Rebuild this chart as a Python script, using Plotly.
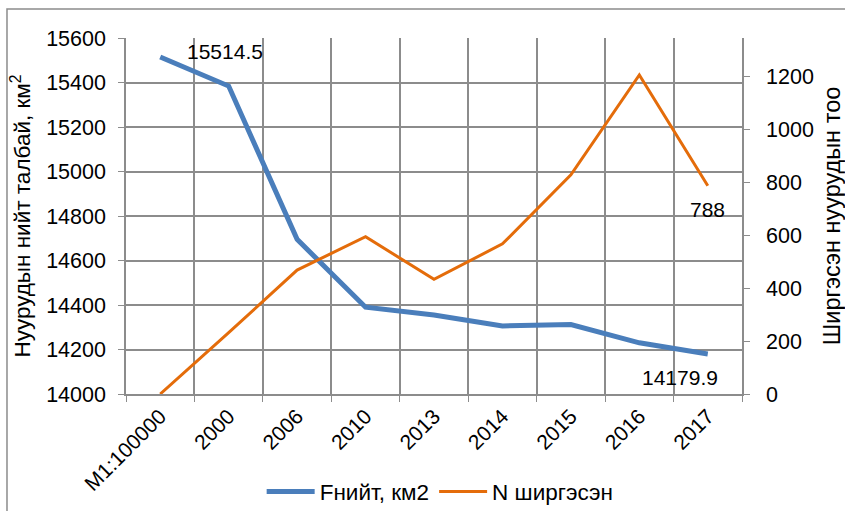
import plotly.graph_objects as go

categories = ["M1:100000", "2000", "2006", "2010", "2013", "2014", "2015", "2016", "2017"]
area_km2 = [15514.5, 15384, 14695, 14390, 14355, 14306, 14312, 14230, 14179.9]
dried_count = [0, 232, 469, 595, 434, 568, 829, 1207, 788]

series_names = ["Fнийт, км2", "N ширгэсэн"]
left_title = "Нуурудын нийт талбай, км<sup>2</sup>"
right_title = "Ширгэсэн нуурудын тоо"

BLUE = "#4A7EBB"
ORANGE = "#E46C0A"
GRID = "#8C8C8C"
FONT = "Liberation Sans, Arial, sans-serif"
FS = 21

last = len(categories) - 1

fig = go.Figure()
fig.add_trace(go.Scatter(x=categories, y=area_km2, mode="lines", name=series_names[0],
                         line=dict(color=BLUE, width=5), yaxis="y"))
fig.add_trace(go.Scatter(x=categories, y=dried_count, mode="lines", name=series_names[1],
                         line=dict(color=ORANGE, width=3), yaxis="y2"))

# data labels
fig.add_annotation(x=0, y=area_km2[0], xref="x", yref="y", text=f"{area_km2[0]}",
                   showarrow=False, xanchor="left", xshift=25, yshift=6,
                   font=dict(size=FS, color="black", family=FONT))
fig.add_annotation(x=last, y=area_km2[last], xref="x", yref="y", text=f"{area_km2[last]}",
                   showarrow=False, xanchor="center", xshift=-28, yshift=-24,
                   font=dict(size=FS, color="black", family=FONT))
fig.add_annotation(x=last, y=dried_count[last], xref="x", yref="y2", text=f"{dried_count[last]}",
                   showarrow=False, xanchor="center", xshift=0, yshift=-24,
                   font=dict(size=FS, color="black", family=FONT))

# outer chart border
fig.add_shape(type="rect", xref="paper", yref="paper", x0=-0.1932, x1=1.2, y0=-0.4, y1=1.0815,
              line=dict(color=GRID, width=1.5), fillcolor="rgba(0,0,0,0)", layer="below")

fig.update_layout(
    width=845, height=511,
    margin=dict(l=126, r=103, t=38, b=117, autoexpand=False),
    paper_bgcolor="white", plot_bgcolor="white",
    font=dict(family=FONT, size=FS, color="black"),
    showlegend=True,
    legend=dict(orientation="h", x=0.51, xanchor="center", y=-0.275, yanchor="middle",
                font=dict(size=22.5, family=FONT, color="black"), itemwidth=48, tracegroupgap=0),
    xaxis=dict(type="category", tickson="boundaries", showgrid=True, gridcolor=GRID, gridwidth=1.5,
               showline=True, linecolor=GRID, linewidth=1.5, ticks="outside", ticklen=6,
               tickcolor=GRID, tickangle=-45, tickfont=dict(size=FS), range=[-0.5, 8.5],
               automargin=False, zeroline=False),
    yaxis=dict(range=[14000, 15600], dtick=200, tickformat="d", showgrid=True, gridcolor=GRID,
               gridwidth=1.5, showline=True, linecolor=GRID, linewidth=1.5, ticks="outside",
               ticklen=6, tickcolor=GRID, tickfont=dict(size=21.5), zeroline=False, automargin=False,
               ticklabelstandoff=8,
               title=dict(text=left_title, font=dict(size=22.5), standoff=9)),
    yaxis2=dict(range=[0, 1347], tickvals=[0, 200, 400, 600, 800, 1000, 1200], tickformat="d",
                overlaying="y", side="right", showgrid=False, showline=True, linecolor=GRID,
                linewidth=1.5, ticks="outside", ticklen=6, tickcolor=GRID, tickfont=dict(size=21.5),
                zeroline=False, automargin=False, ticklabelstandoff=12,
                title=dict(text=right_title, font=dict(size=23.5), standoff=17)),
)

fig.write_html("out.html", config={"displayModeBar": False},
               post_script="document.body.style.margin='0px';")
